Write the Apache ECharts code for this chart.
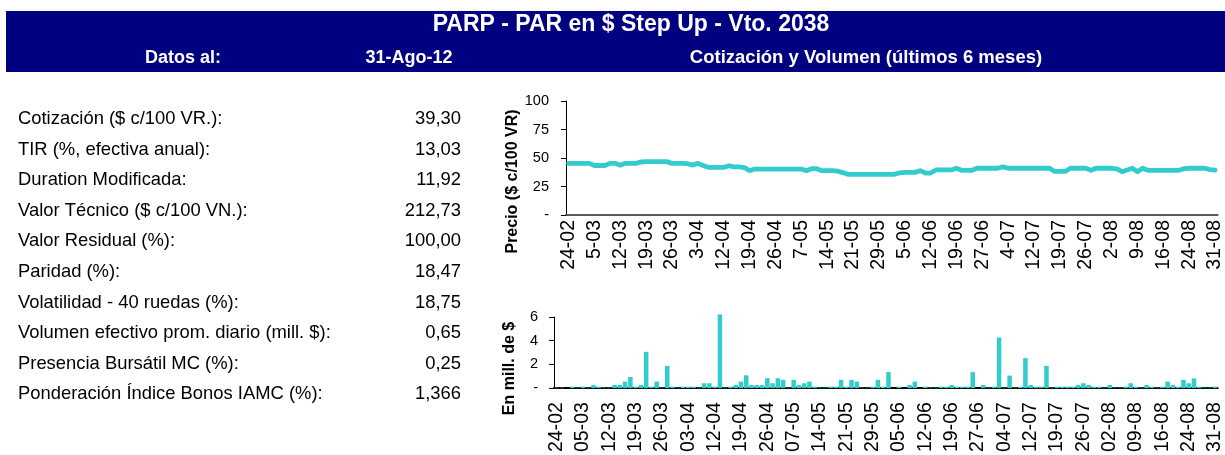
<!DOCTYPE html>
<html>
<head>
<meta charset="utf-8">
<script src="https://cdn.jsdelivr.net/npm/echarts@6/dist/echarts.min.js"></script>
<style>
  html, body { margin: 0; padding: 0; background: #ffffff; }
  #chart { width: 1225px; height: 455px; }
</style>
</head>
<body>
<div id="chart"></div>
<script>
// Ruedas de los últimos 6 meses (DD-MM)
const fechas = [
  '24-02','28-02','29-02','01-03','02-03','05-03','06-03','07-03','08-03','09-03',
  '12-03','13-03','14-03','15-03','16-03','19-03','20-03','21-03','22-03','23-03',
  '26-03','27-03','28-03','29-03','30-03','03-04','04-04','09-04','10-04','11-04',
  '12-04','13-04','16-04','17-04','18-04','19-04','20-04','23-04','24-04','25-04',
  '26-04','27-04','02-05','03-05','04-05','07-05','08-05','09-05','10-05','11-05',
  '14-05','15-05','16-05','17-05','18-05','21-05','22-05','23-05','24-05','28-05',
  '29-05','30-05','31-05','01-06','04-06','05-06','06-06','07-06','08-06','11-06',
  '12-06','13-06','14-06','15-06','18-06','19-06','21-06','22-06','25-06','26-06',
  '27-06','28-06','29-06','02-07','03-07','04-07','05-07','06-07','10-07','11-07',
  '12-07','13-07','16-07','17-07','18-07','19-07','20-07','23-07','24-07','25-07',
  '26-07','27-07','30-07','31-07','01-08','02-08','03-08','06-08','07-08','08-08',
  '09-08','10-08','13-08','14-08','15-08','16-08','17-08','21-08','22-08','23-08',
  '24-08','27-08','28-08','29-08','30-08','31-08'
];

// Precio ($ c/100 VR)
const precio = [
  45.3,45.3,45.3,45.3,45.3,43.4,43.4,43.4,45.3,45.3,
  43.6,45.3,45.3,45.3,46.5,46.8,46.8,46.8,46.8,46.8,
  45.3,45.3,45.3,45.0,43.8,45.3,43.5,41.8,41.8,41.8,
  41.8,43.2,42.2,42.2,41.5,38.9,40.3,40.3,40.3,40.3,
  40.3,40.3,40.3,40.3,40.3,40.3,38.9,40.6,40.6,38.9,
  38.9,38.9,38.5,37.2,35.7,35.7,35.7,35.7,35.7,35.7,
  35.7,35.7,35.7,35.7,37.0,37.4,37.4,37.4,38.9,36.8,
  36.8,39.5,39.5,39.5,39.5,41.0,39.2,39.2,39.2,41.0,
  41.0,41.0,41.0,41.0,42.2,41.0,41.0,41.0,41.0,41.0,
  41.0,41.0,41.0,41.0,38.2,38.2,38.2,41.0,41.0,41.0,
  41.0,39.2,41.0,41.0,41.0,41.0,40.4,38.0,39.5,41.0,
  38.0,41.0,39.2,39.2,39.2,39.2,39.2,39.2,39.2,40.6,
  41.0,41.0,41.0,41.0,39.8,39.3
];

// Volumen efectivo (millones de $)
const volumen = [
  0.04,0.04,0,   0.12,0.04,0.12,0.04,0.27,0.12,0.04,
  0.04,0.27,0.27,0.55,0.94,0.12,0.27,3.06,0.12,0.55,
  0.04,1.88,0.12,0.04,0.12,0.12,0.12,0.04,0.41,0.41,
  0.12,6.22,0.04,0.12,0.27,0.55,1.08,0.27,0.27,0.27,
  0.84,0.41,0.84,0.70,0.04,0.70,0.27,0.41,0.55,0.12,
  0.04,0.04,0.12,0.12,0.70,0.12,0.70,0.55,0.04,0.04,
  0.12,0.70,0.12,1.35,0,   0.12,0,   0.27,0.55,0,
  0.12,0.04,0.04,0.12,0.12,0.27,0.12,0.12,0.12,1.35,
  0,   0.27,0.04,0.12,4.27,0.04,1.06,0.04,0.12,2.53,
  0.27,0.12,0.12,1.88,0.04,0.12,0.12,0.12,0.12,0.27,
  0.41,0.27,0.12,0.12,0.04,0.27,0.04,0.04,0.12,0.41,
  0.12,0.04,0.27,0.12,0.04,0.12,0.55,0.27,0.12,0.70,
  0.41,0.82,0.12,0.04,0.04,0.12
];

// Ticks de los ejes de valores
const precioTicks = [0, 25, 50, 75, 100];
const volumenTicks = [0, 2, 4, 6];

// Ficha técnica del bono
const fichaLabels = [
  'Cotización ($ c/100 VR.):',
  'TIR (%, efectiva anual):',
  'Duration Modificada:',
  'Valor Técnico ($ c/100 VN.):',
  'Valor Residual (%):',
  'Paridad (%):',
  'Volatilidad - 40 ruedas (%):',
  'Volumen efectivo prom. diario (mill. $):',
  'Presencia Bursátil MC (%):',
  'Ponderación Índice Bonos IAMC (%):'
];
const fichaValues = ['39,30','13,03','11,92','212,73','100,00','18,47','18,75','0,65','0,25','1,366'];

const titulo = 'PARP - PAR en $ Step Up - Vto. 2038';
const encabezados = ['Datos al:', '31-Ago-12', 'Cotización y Volumen (últimos 6 meses)'];

const FONT = '"Liberation Sans", Arial, Helvetica, sans-serif';
const TURQ = '#33CCCC';
const NAVY = '#000080';

const chart = echarts.init(document.getElementById('chart'), null, { renderer: 'canvas' });

const graphics = [
  { type: 'rect', shape: { x: 6, y: 11, width: 1225, height: 61 }, style: { fill: NAVY }, silent: true },
  { type: 'text', x: 631, y: 25, style: { text: titulo, fill: '#fff', font: 'bold 23px ' + FONT, textAlign: 'center', textVerticalAlign: 'middle' } },
  { type: 'text', x: 183, y: 58, style: { text: encabezados[0], fill: '#fff', font: 'bold 18px ' + FONT, textAlign: 'center', textVerticalAlign: 'middle' } },
  { type: 'text', x: 409, y: 58, style: { text: encabezados[1], fill: '#fff', font: 'bold 18px ' + FONT, textAlign: 'center', textVerticalAlign: 'middle' } },
  { type: 'text', x: 866, y: 58, style: { text: encabezados[2], fill: '#fff', font: 'bold 18.5px ' + FONT, textAlign: 'center', textVerticalAlign: 'middle' } },
  { type: 'text', x: 513, y: 181.5, rotation: Math.PI / 2, style: { text: 'Precio ($ c/100 VR)', fill: '#000', font: 'bold 16px ' + FONT, textAlign: 'center', textVerticalAlign: 'middle' } },
  { type: 'text', x: 510, y: 368.5, rotation: Math.PI / 2, style: { text: 'En mill. de $', fill: '#000', font: 'bold 16px ' + FONT, textAlign: 'center', textVerticalAlign: 'middle' } }
];

fichaLabels.forEach((lab, i) => {
  const y = 119 + i * 30.6;
  graphics.push({ type: 'text', x: 18, y, style: { text: lab, fill: '#000', font: '18.4px ' + FONT, textAlign: 'left', textVerticalAlign: 'middle' } });
  graphics.push({ type: 'text', x: 461, y, style: { text: fichaValues[i], fill: '#000', font: '18.4px ' + FONT, textAlign: 'right', textVerticalAlign: 'middle' } });
});

const dash = v => (v === 0 ? '-' : String(v));

chart.setOption({
  animation: false,
  backgroundColor: '#ffffff',
  graphic: graphics,
  grid: [
    { left: 566, top: 101, width: 659.7, height: 114, containLabel: false },
    { left: 554, top: 317, width: 671.3, height: 83, containLabel: false }
  ],
  xAxis: [
    {
      type: 'category', gridIndex: 0, data: fechas, boundaryGap: true,
      axisLine: { lineStyle: { color: '#595959', width: 2 } },
      axisTick: { show: false },
      axisLabel: {
        interval: 4, rotate: 90, margin: 5, color: '#000', fontSize: 19.5, fontFamily: FONT,
        formatter: s => s.replace(/^0/, '')
      },
      splitLine: { show: false }
    },
    {
      type: 'category', gridIndex: 1, data: fechas, boundaryGap: true,
      axisLine: { lineStyle: { color: '#000', width: 2 } },
      axisTick: { show: false },
      axisLabel: { interval: 4, rotate: 90, margin: 14, color: '#000', fontSize: 19.5, fontFamily: FONT },
      splitLine: { show: false }
    }
  ],
  yAxis: [
    {
      type: 'value', gridIndex: 0,
      min: precioTicks[0], max: precioTicks[precioTicks.length - 1], interval: precioTicks[1] - precioTicks[0],
      axisLine: { show: true, lineStyle: { color: '#000', width: 1 } },
      axisTick: { show: true, length: 5, lineStyle: { color: '#000' } },
      axisLabel: { margin: 17, color: '#000', fontSize: 14.5, fontFamily: FONT, formatter: dash },
      splitLine: { show: false }
    },
    {
      type: 'value', gridIndex: 1,
      min: volumenTicks[0], max: volumenTicks[volumenTicks.length - 1], interval: volumenTicks[1] - volumenTicks[0],
      axisLine: { show: true, lineStyle: { color: '#000', width: 1 } },
      axisTick: { show: true, length: 5, lineStyle: { color: '#000' } },
      axisLabel: { margin: 16, color: '#000', fontSize: 14.5, fontFamily: FONT, formatter: dash },
      splitLine: { show: false }
    }
  ],
  series: [
    {
      name: 'Precio', type: 'line', xAxisIndex: 0, yAxisIndex: 0, data: precio,
      showSymbol: false, symbol: 'none',
      lineStyle: { color: TURQ, width: 4.8, cap: 'round', join: 'round' },
      z: 3
    },
    {
      name: 'Volumen', type: 'bar', xAxisIndex: 1, yAxisIndex: 1, data: volumen,
      barWidth: 4.5, clip: false,
      itemStyle: { color: TURQ }
    }
  ]
});
</script>
</body>
</html>
